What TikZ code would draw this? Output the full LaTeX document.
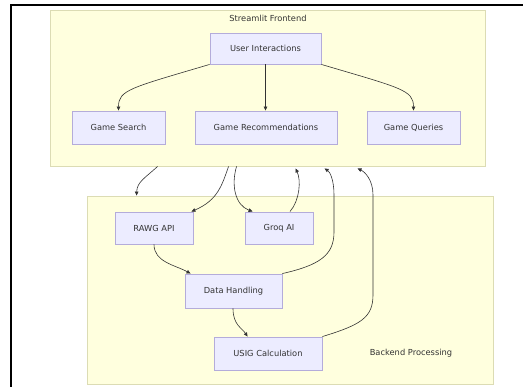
\documentclass[tikz,border=0pt]{standalone}
\usepackage{fontspec}
\setmainfont{DejaVu Sans}
\usetikzlibrary{arrows.meta,calc}
\definecolor{nodefill}{HTML}{ECECFF}
\definecolor{nodeline}{HTML}{B4ACDA}
\definecolor{clfill}{HTML}{FFFFDE}
\definecolor{clline}{HTML}{DCDCB4}
\definecolor{ink}{HTML}{333333}
\begin{document}
\begin{tikzpicture}[x=1pt,y=-1pt,
  box/.style={draw=nodeline,fill=nodefill,line width=0.9pt,inner sep=0pt,
    font=\fontsize{8.3}{10}\selectfont,text=ink},
  cluster/.style={draw=clline,fill=clfill,line width=0.9pt,inner sep=0pt},
  lbl/.style={font=\fontsize{8.3}{10}\selectfont,text=ink,inner sep=0pt},
  link/.style={draw=ink,line width=0.6pt,-{Triangle[length=4pt,width=3.6pt]}}]
\useasboundingbox (0,0) rectangle (523,387);
\draw[line width=1.3pt] (11,387) -- (11,5) -- (523,5);
% clusters
\node[cluster,minimum width=435pt,minimum height=156pt] (fe) at (267.5,88) {};
\node[cluster,minimum width=406pt,minimum height=188pt] (be) at (290,290) {};
\node[lbl] (fet) at (268,18.5) {Streamlit Frontend};
\node[lbl] (bet) at (411,353.5) {Backend Processing};
% nodes
\node[box,minimum width=111pt,minimum height=31pt] (ui) at (265.5,48.5) {User Interactions};
\node[box,minimum width=93pt,minimum height=33pt] (gs) at (118.5,127.5) {Game Search};
\node[box,minimum width=142pt,minimum height=33pt] (gr) at (266,127.5) {Game Recommendations};
\node[box,minimum width=93pt,minimum height=33pt] (gq) at (413.5,127.5) {Game Queries};
\node[box,minimum width=78pt,minimum height=32pt] (rawg) at (154,228) {RAWG API};
\node[box,minimum width=68pt,minimum height=32pt] (groq) at (279,228) {Groq AI};
\node[box,minimum width=97pt,minimum height=34pt] (dh) at (233.5,291) {Data Handling};
\node[box,minimum width=108pt,minimum height=33pt] (usig) at (268,353.5) {USIG Calculation};
% cluster anchor points
\coordinate (fe1) at ($(fe.south west)+(108,0)$);
\coordinate (fe2) at ($(fe.south west)+(179,0)$);
\coordinate (fe3) at ($(fe.south west)+(187,0)$);
\coordinate (fe4) at ($(fe.south west)+(246,2)$);
\coordinate (fe5) at ($(fe.south west)+(275,2)$);
\coordinate (fe6) at ($(fe.south west)+(308,2)$);
\coordinate (be1) at ($(be.north west)+(50,0)$);
% edges
\draw[link] (ui.south west) .. controls (130,88) and (118.5,90) .. (gs.north);
\draw[link] (ui.south) -- (gr.north -| ui.south);
\draw[link] (ui.south east) .. controls (401,88) and (413.5,90) .. (gq.north);
\draw[link] (fe1) .. controls (145,178) and (137,182) .. (be1);
\draw[link] (fe2) .. controls (222,185) and (218,200) .. ($(rawg.north east)+(-2,0)$);
\draw[link] (fe3) .. controls (231,185) and (235,205) .. ($(groq.north west)+(8,0)$);
\draw[link] ($(groq.north)+(11,0)$) .. controls (300,200) and (301,180) .. (fe4);
\draw[link] (dh.north east) .. controls (320,265) and (334,255) .. (334,232) -- (334,195) .. controls (334,180) and (330,172) .. (fe5);
\draw[link] (usig.north east) .. controls (360,325) and (373,318) .. (373,295) -- (373,195) .. controls (373,180) and (365,172) .. (fe6);
\draw[link] (rawg.south) .. controls (154,262) and (175,265) .. ($(dh.north west)+(6,0)$);
\draw[link] ($(dh.south)+(-0.5,0)$) .. controls (233,325) and (242,328) .. ($(usig.north west)+(34,0)$);
\end{tikzpicture}
\end{document}
